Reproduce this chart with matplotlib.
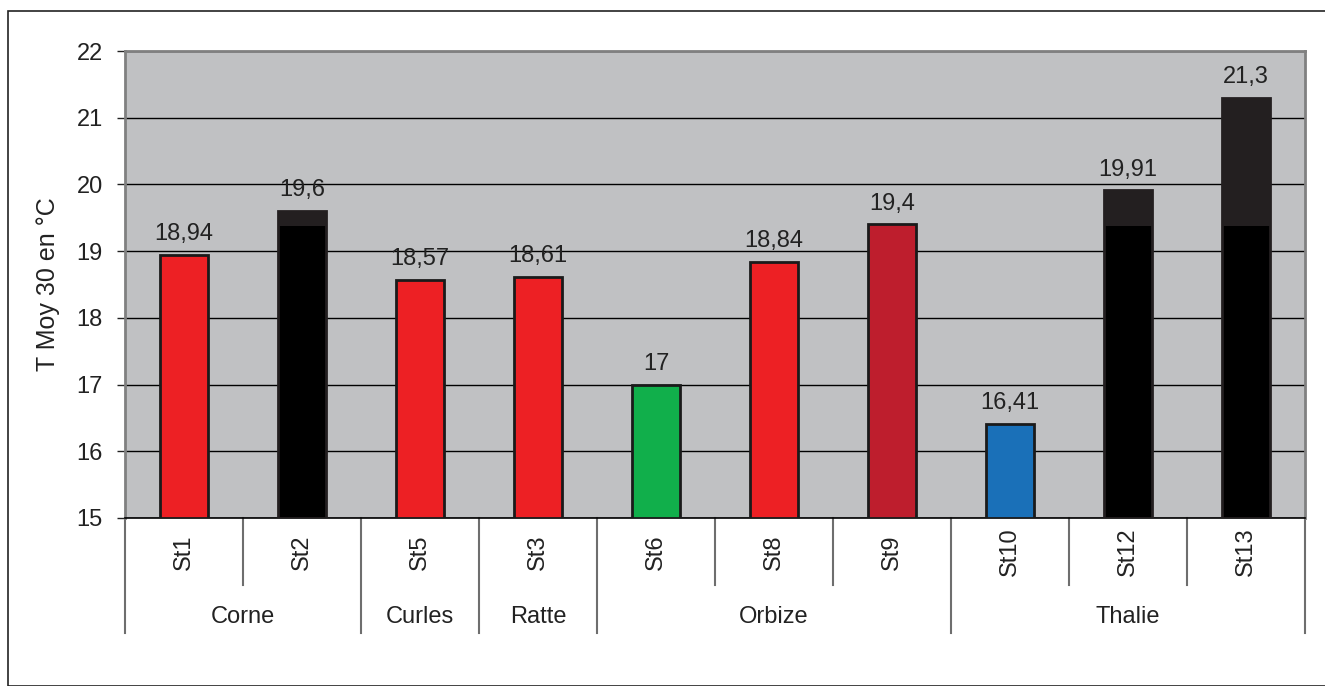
import numpy as np
import matplotlib.pyplot as plt
from matplotlib.patches import Rectangle

plt.rcParams['font.family'] = ['Liberation Sans', 'DejaVu Sans']

stations = ['St1', 'St2', 'St5', 'St3', 'St6', 'St8', 'St9', 'St10', 'St12', 'St13']
temps = [18.94, 19.6, 18.57, 18.61, 17, 18.84, 19.4, 16.41, 19.91, 21.3]
labels = ['18,94', '19,6', '18,57', '18,61', '17', '18,84', '19,4', '16,41', '19,91', '21,3']
colors = ['#ED2024', '#000000', '#ED2024', '#ED2024', '#11AF4B',
          '#ED2024', '#BE1E2D', '#1A70B8', '#000000', '#000000']
stacked = [False, True, False, False, False, False, False, False, True, True]
threshold = 19.38
groups = ['Corne', 'Curles', 'Ratte', 'Orbize', 'Thalie']
group_sizes = [2, 1, 1, 3, 3]

fs = 17

fig = plt.figure(figsize=(13.25, 6.86), dpi=100)
fig.patches.append(Rectangle((8/1325, 0), 1.2, 1 - 11/686, transform=fig.transFigure,
                             fill=False, edgecolor='#222222', lw=1.2))

ax = fig.add_axes((125/1325, 1 - 518/686, 1180/1325, 467/686))
ax.set_facecolor('#C0C1C3')

x = np.arange(len(stations))
w = 0.41
bottom = 15
for i in range(len(stations)):
    if stacked[i]:
        ax.bar(x[i], threshold - bottom, w, bottom=bottom, color='#000000', zorder=3)
        ax.bar(x[i], temps[i] - threshold, w, bottom=threshold, color='#231F20', zorder=3)
        ax.bar(x[i], temps[i] - bottom, w, bottom=bottom, fill=False,
               edgecolor='#231F20', lw=2, zorder=4)
    else:
        ax.bar(x[i], temps[i] - bottom, w, bottom=bottom, color=colors[i],
               edgecolor='#1A1A1A', lw=2, zorder=3)
    ax.annotate(labels[i], (x[i], temps[i]), xytext=(0, 7), textcoords='offset points',
                ha='center', va='bottom', fontsize=fs, color='#222222')

ax.set_xlim(-0.5, len(stations) - 0.5)
ax.set_ylim(15, 22)
ax.set_yticks(range(15, 23))
ax.yaxis.grid(True, color='black', lw=1)
ax.set_axisbelow(True)
ax.tick_params(axis='y', length=6, width=1, pad=10, labelsize=fs, colors='#222222')
ax.tick_params(axis='x', length=0)
ax.set_xticks([])
ax.set_ylabel('T Moy 30 en °C', fontsize=18, labelpad=12, color='#222222')

for side in ['top', 'left', 'right']:
    ax.spines[side].set_color('#808080')
    ax.spines[side].set_linewidth(2)
ax.spines['bottom'].set_color('black')
ax.spines['bottom'].set_linewidth(1.2)

# two-level category axis
trans = ax.get_xaxis_transform()
for i, st in enumerate(stations):
    ax.text(x[i], -0.073, st, rotation=90, ha='center', va='center',
            fontsize=fs, color='#222222', transform=trans)

start = 0
bounds = [-0.5]
for g, n in zip(groups, group_sizes):
    center = start + (n - 1) / 2
    ax.text(center, -0.211, g, ha='center', va='center', fontsize=fs,
            color='#222222', transform=trans)
    for k in range(1, n):
        xb = start + k - 0.5
        ax.plot([xb, xb], [0, -0.1435], color='#6E6E6E', lw=1.5,
                transform=trans, clip_on=False)
    start += n
    bounds.append(start - 0.5)

for xb in bounds:
    ax.plot([xb, xb], [0, -0.246], color='#6E6E6E', lw=1.5,
            transform=trans, clip_on=False)

fig.savefig('out.png', dpi=100)
